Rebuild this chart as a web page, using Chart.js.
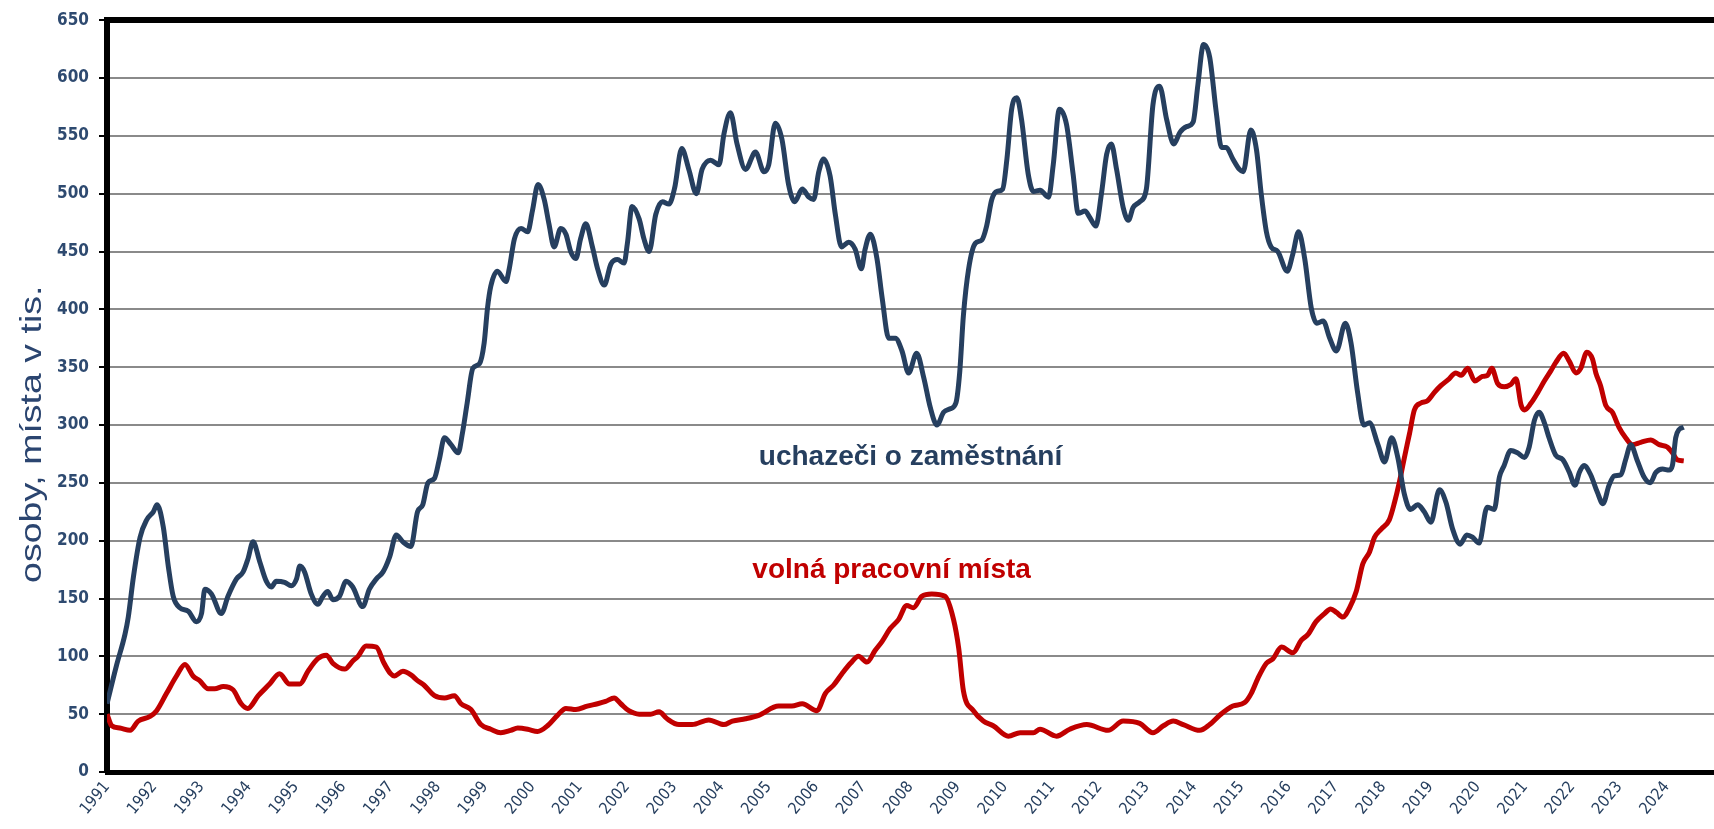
<!DOCTYPE html>
<html>
<head>
<meta charset="utf-8">
<script src="https://cdn.jsdelivr.net/npm/chart.js@4.4.1/dist/chart.umd.min.js"></script>
<style>
  html, body { margin: 0; padding: 0; background: #ffffff; }
  #wrap { width: 1714px; height: 829px; position: relative; }
</style>
</head>
<body>
<div id="wrap"><canvas id="c" width="1714" height="829"></canvas></div>
<script>
// ---------- DATA (x = year, y = thousands) ----------
const yearTicks = [1991,1992,1993,1994,1995,1996,1997,1998,1999,2000,2001,2002,2003,2004,2005,2006,2007,2008,2009,2010,2011,2012,2013,2014,2015,2016,2017,2018,2019,2020,2021,2022,2023,2024];
const valueTicks = [0,50,100,150,200,250,300,350,400,450,500,550,600,650];
const seriesNames = ['uchazeči o zaměstnání', 'volná pracovní místa'];
const yAxisTitle = 'osoby, místa v tis.';

const applicants = [
[1991.00,59],[1991.20,92],[1991.38,119],[1991.45,134],[1991.56,169],[1991.70,203],[1991.84,218],[1991.98,225],[1992.06,231],[1992.19,212],
[1992.30,177],[1992.40,152],[1992.54,142],[1992.72,139],[1992.89,130],[1993.00,137],[1993.07,158],[1993.21,154],[1993.42,137],[1993.56,152],
[1993.74,167],[1993.88,173],[1993.98,184],[1994.09,199],[1994.23,182],[1994.37,165],[1994.48,160],[1994.58,165],[1994.76,164],[1994.90,161],
[1995.01,167],[1995.08,178],[1995.18,173],[1995.32,154],[1995.46,145],[1995.57,152],[1995.67,156],[1995.78,149],[1995.92,152],[1996.06,165],
[1996.20,160],[1996.41,143],[1996.55,158],[1996.70,167],[1996.84,173],[1996.98,186],[1997.12,205],[1997.26,199],[1997.43,195],[1997.57,225],
[1997.68,231],[1997.79,250],[1997.93,254],[1998.03,270],[1998.14,289],[1998.28,283],[1998.43,276],[1998.52,293],[1998.62,319],[1998.74,349],
[1998.88,353],[1998.98,371],[1999.05,401],[1999.12,420],[1999.26,433],[1999.44,424],[1999.51,435],[1999.62,461],[1999.76,470],[1999.90,467],
[2000.00,485],[2000.12,508],[2000.25,495],[2000.35,474],[2000.46,454],[2000.60,470],[2000.71,465],[2000.81,450],[2000.92,444],[2001.02,461],
[2001.13,474],[2001.27,454],[2001.38,435],[2001.52,421],[2001.66,439],[2001.80,443],[2001.94,440],[2002.01,457],[2002.11,489],[2002.26,478],
[2002.36,461],[2002.47,450],[2002.61,482],[2002.75,493],[2002.89,491],[2003.01,505],[2003.16,539],[2003.31,521],[2003.47,500],[2003.59,521],
[2003.77,529],[2003.95,525],[2004.05,551],[2004.19,570],[2004.33,543],[2004.51,521],[2004.72,536],[2004.90,519],[2005.00,525],[2005.14,561],
[2005.28,547],[2005.42,508],[2005.55,493],[2005.71,504],[2005.85,497],[2005.95,495],[2006.06,519],[2006.16,530],[2006.30,515],[2006.41,482],
[2006.54,454],[2006.69,458],[2006.83,452],[2006.96,435],[2007.04,452],[2007.15,465],[2007.29,444],[2007.40,410],[2007.54,375],[2007.68,375],
[2007.82,364],[2007.96,345],[2008.13,362],[2008.28,341],[2008.42,315],[2008.56,300],[2008.70,311],[2008.84,314],[2008.96,319],[2009.04,345],
[2009.12,395],[2009.23,435],[2009.37,457],[2009.51,460],[2009.61,472],[2009.72,495],[2009.83,502],[2009.95,504],[2010.04,530],[2010.14,573],
[2010.25,583],[2010.35,564],[2010.49,517],[2010.60,502],[2010.74,503],[2010.92,497],[2011.02,525],[2011.15,573],[2011.30,560],[2011.44,517],
[2011.55,483],[2011.69,485],[2011.80,479],[2011.92,472],[2012.04,500],[2012.15,534],[2012.25,543],[2012.36,521],[2012.50,488],[2012.61,477],
[2012.71,488],[2012.85,493],[2012.99,504],[2013.13,577],[2013.27,593],[2013.42,564],[2013.57,543],[2013.70,553],[2013.84,558],[2013.98,562],
[2014.08,594],[2014.20,629],[2014.33,618],[2014.47,570],[2014.58,540],[2014.68,540],[2014.82,530],[2014.96,521],[2015.04,519],[2015.20,555],
[2015.32,538],[2015.42,500],[2015.53,467],[2015.63,454],[2015.77,450],[2015.97,433],[2016.09,448],[2016.21,467],[2016.34,444],[2016.48,401],
[2016.60,388],[2016.73,390],[2016.87,375],[2017.01,364],[2017.20,388],[2017.32,371],[2017.46,328],[2017.59,300],[2017.71,302],[2017.89,283],
[2018.03,268],[2018.18,289],[2018.31,272],[2018.45,240],[2018.58,227],[2018.73,231],[2018.87,225],[2019.01,216],[2019.19,244],[2019.33,233],
[2019.47,210],[2019.63,197],[2019.77,205],[2019.89,203],[2020.03,198],[2020.20,229],[2020.35,227],[2020.46,255],[2020.56,265],[2020.70,278],
[2020.84,276],[2020.99,272],[2021.09,281],[2021.20,304],[2021.30,311],[2021.41,302],[2021.51,289],[2021.65,274],[2021.80,270],[2021.94,259],
[2022.06,248],[2022.15,259],[2022.25,265],[2022.39,257],[2022.53,242],[2022.65,232],[2022.78,248],[2022.89,256],[2023.03,257],[2023.13,270],
[2023.24,283],[2023.37,270],[2023.52,255],[2023.65,250],[2023.77,259],[2023.91,262],[2024.05,261],[2024.12,265],[2024.19,289],[2024.26,296],
[2024.36,298]
];

const vacancies = [
[1991.00,50],[1991.10,40],[1991.27,38],[1991.49,36],[1991.66,44],[1991.91,48],[1992.05,53],[1992.26,68],[1992.47,83],[1992.65,93],
[1992.82,83],[1992.96,79],[1993.14,72],[1993.28,72],[1993.46,74],[1993.67,71],[1993.84,59],[1993.98,55],[1994.20,66],[1994.44,76],
[1994.65,85],[1994.86,76],[1995.08,76],[1995.25,87],[1995.46,98],[1995.64,101],[1995.78,94],[1996.03,89],[1996.20,96],[1996.31,100],
[1996.48,109],[1996.70,108],[1996.85,95],[1997.00,85],[1997.08,83],[1997.26,87],[1997.43,84],[1997.57,79],[1997.71,75],[1997.93,66],
[1998.14,64],[1998.35,66],[1998.49,59],[1998.70,54],[1998.91,41],[1999.12,37],[1999.33,34],[1999.54,36],[1999.69,38],[1999.90,37],
[2000.11,35],[2000.32,40],[2000.53,49],[2000.71,55],[2000.92,54],[2001.16,57],[2001.38,59],[2001.55,61],[2001.73,64],[2001.87,59],
[2002.04,53],[2002.26,50],[2002.50,50],[2002.68,52],[2002.85,46],[2003.10,41],[2003.38,41],[2003.73,45],[2004.05,41],[2004.23,44],
[2004.51,46],[2004.79,49],[2005.21,57],[2005.49,57],[2005.71,59],[2006.02,53],[2006.20,68],[2006.37,75],[2006.55,85],[2006.73,94],
[2006.90,100],[2007.08,95],[2007.25,105],[2007.40,113],[2007.57,124],[2007.75,132],[2007.92,144],[2008.06,142],[2008.24,152],[2008.45,154],
[2008.73,152],[2008.91,132],[2009.02,107],[2009.12,70],[2009.33,53],[2009.54,44],[2009.75,40],[2010.07,31],[2010.32,34],[2010.60,34],
[2010.74,37],[2011.09,31],[2011.37,37],[2011.73,41],[2012.18,36],[2012.50,44],[2012.85,42],[2013.13,34],[2013.35,40],[2013.56,44],
[2013.77,41],[2014.12,36],[2014.33,41],[2014.54,49],[2014.82,57],[2015.07,60],[2015.21,68],[2015.35,81],[2015.53,94],[2015.67,98],
[2015.85,108],[2016.09,103],[2016.27,114],[2016.41,119],[2016.58,130],[2016.76,137],[2016.89,141],[2017.01,138],[2017.15,134],[2017.29,142],
[2017.43,156],[2017.57,180],[2017.71,190],[2017.82,203],[2017.96,210],[2018.13,218],[2018.24,233],[2018.34,250],[2018.45,272],[2018.56,293],
[2018.66,313],[2018.80,319],[2018.94,321],[2019.08,328],[2019.22,334],[2019.37,339],[2019.54,345],[2019.65,343],[2019.79,349],[2019.94,338],
[2020.10,342],[2020.21,343],[2020.30,349],[2020.42,336],[2020.56,333],[2020.70,335],[2020.81,340],[2020.92,317],[2020.99,313],[2021.13,319],
[2021.27,328],[2021.41,338],[2021.55,347],[2021.65,354],[2021.82,362],[2021.94,355],[2022.08,345],[2022.18,349],[2022.31,363],[2022.43,357],
[2022.50,345],[2022.60,334],[2022.71,317],[2022.85,311],[2022.99,298],[2023.13,289],[2023.27,283],[2023.45,285],[2023.66,287],[2023.84,283],
[2024.01,281],[2024.12,276],[2024.22,270],[2024.36,269]
];

// ---------- STYLE ----------
const NAVY = '#263f5f';
const RED = '#c00000';
const NARROW = '"Liberation Sans Narrow", "Arial Narrow", "DejaVu Sans Condensed", sans-serif';
const SANS = '"Liberation Sans", Arial, sans-serif';

// series name labels inside the plot and the (vertically elongated) y-axis title
const textLayer = {
  id: 'textLayer',
  afterDraw(chart) {
    const { ctx, chartArea, scales: { x, y } } = chart;
    ctx.save();
    ctx.font = 'bold 28px ' + SANS;
    ctx.textAlign = 'center';
    ctx.textBaseline = 'middle';
    ctx.fillStyle = NAVY;
    ctx.fillText(seriesNames[0], x.getPixelForValue(2008.0), y.getPixelForValue(272));
    ctx.fillStyle = RED;
    ctx.fillText(seriesNames[1], x.getPixelForValue(2007.6), y.getPixelForValue(174));
    ctx.restore();

    ctx.save();
    ctx.translate(chartArea.left - 74, y.getPixelForValue(292));
    ctx.rotate(-Math.PI / 2);
    ctx.scale(1.25, 1);
    ctx.font = '30px ' + SANS;
    ctx.textAlign = 'center';
    ctx.textBaseline = 'middle';
    ctx.fillStyle = '#2b4570';
    ctx.fillText(yAxisTitle, 0, 0);
    ctx.restore();
  }
};

const toPoints = arr => arr.map(([x, y]) => ({ x, y }));

new Chart(document.getElementById('c'), {
  type: 'line',
  data: {
    datasets: [
      { label: seriesNames[0], data: toPoints(applicants), borderColor: NAVY, borderWidth: 5,
        pointRadius: 0, cubicInterpolationMode: 'monotone', fill: false },
      { label: seriesNames[1], data: toPoints(vacancies), borderColor: RED, borderWidth: 5,
        pointRadius: 0, cubicInterpolationMode: 'monotone', fill: false }
    ]
  },
  options: {
    responsive: false,
    animation: false,
    events: [],
    layout: { padding: { top: 14, right: 0, bottom: 0, left: 0 } },
    plugins: { legend: { display: false }, tooltip: { enabled: false } },
    scales: {
      x: {
        type: 'linear', min: 1991, max: 2025,
        afterBuildTicks: s => { s.ticks = yearTicks.map(v => ({ value: v })); },
        afterFit: s => { s.height = 57; },
        grid: { display: false, drawTicks: false },
        border: { display: true, color: '#000000', width: 5 },
        ticks: { autoSkip: false, minRotation: 50, maxRotation: 50, padding: 6,
                 color: NAVY, font: { family: NARROW, size: 16 }, callback: v => String(v) }
      },
      y: {
        min: 0, max: 650,
        afterBuildTicks: s => { s.ticks = valueTicks.map(v => ({ value: v })); },
        afterFit: s => { s.width = 107; },
        grid: {
          color: c => (c.tick && c.tick.value === 650) ? '#000000' : '#8a8a8a',
          lineWidth: c => (c.tick && c.tick.value === 650) ? 6 : 2,
          drawTicks: true, tickLength: 8, tickColor: '#000000', tickWidth: 2
        },
        border: { display: true, color: '#000000', width: 6 },
        ticks: { padding: 10, color: '#2e4a70', font: { family: NARROW, size: 17, weight: 'bold' } },
        title: { display: false, text: yAxisTitle }
      }
    }
  },
  plugins: [textLayer]
});
</script>
</body>
</html>
